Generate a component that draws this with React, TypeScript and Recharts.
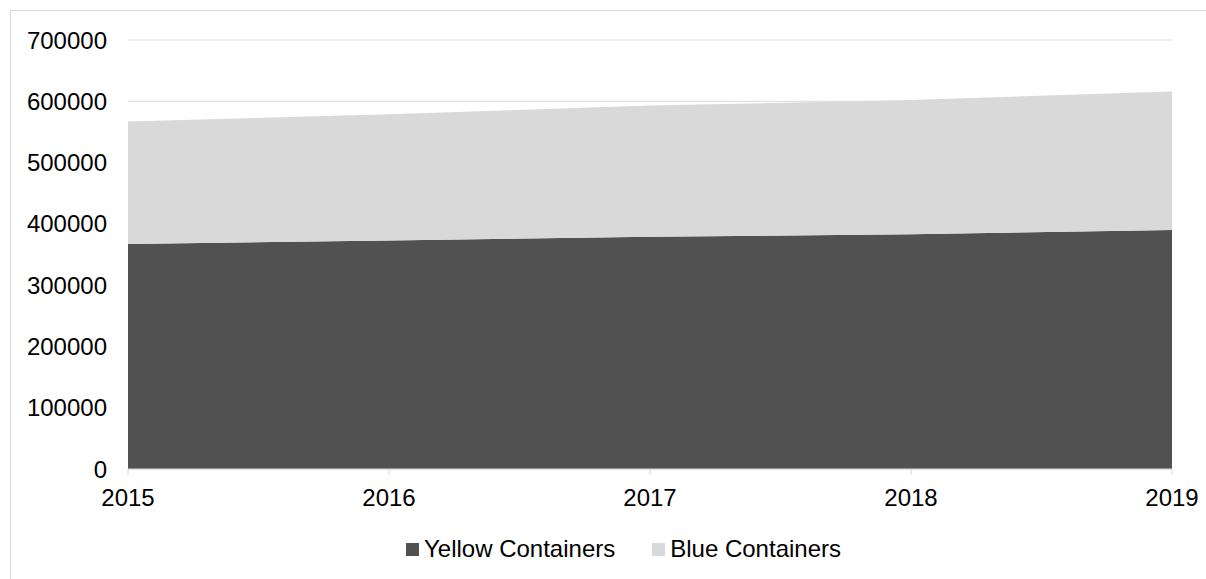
import React from 'react';
import { AreaChart, Area, XAxis, YAxis, CartesianGrid, Legend } from 'recharts';

const years = ['2015', '2016', '2017', '2018', '2019'];
const yellowContainers = [367000, 373000, 379000, 383000, 390000];
const blueContainers = [200000, 206000, 214000, 219000, 226000];
const yTicks = [0, 100000, 200000, 300000, 400000, 500000, 600000, 700000];

const seriesNames = ['Yellow Containers', 'Blue Containers'];
const seriesColors = ['#515151', '#d9d9d9'];

const data = years.map((y, i) => ({
  year: y,
  yellow: yellowContainers[i],
  blue: blueContainers[i],
}));

const FONT = '"Liberation Sans", Arial, sans-serif';
const FS = 24;

const LegendContent = () => (
  <div
    style={{
      display: 'flex',
      justifyContent: 'center',
      alignItems: 'center',
      fontFamily: FONT,
      fontSize: FS,
      color: '#000',
      paddingLeft: 41,
      lineHeight: '28px',
    }}
  >
    {seriesNames.map((n, i) => (
      <div key={n} style={{ display: 'flex', alignItems: 'center', marginRight: i === 0 ? 37 : 0 }}>
        <div style={{ width: 13, height: 13, background: seriesColors[i], marginRight: 5 }} />
        <span>{n}</span>
      </div>
    ))}
  </div>
);

export default function App() {
  return (
    <div style={{ position: 'absolute', left: 0, top: 0, width: 1206, height: 579, background: '#fff', overflow: 'hidden' }}>
      <div
        style={{
          position: 'absolute',
          left: 10,
          top: 10,
          width: 1300,
          height: 700,
          border: '1px solid #d9d9d9',
          boxSizing: 'border-box',
        }}
      />
      <AreaChart
        width={1206}
        height={579}
        data={data}
        margin={{ top: 40, right: 34, bottom: 80, left: 0 }}
        style={{ position: 'absolute', left: 0, top: 0 }}
      >
        <CartesianGrid vertical={false} stroke="#d9d9d9" strokeWidth={1} />
        <XAxis
          dataKey="year"
          height={30}
          axisLine={{ stroke: '#d9d9d9', strokeWidth: 1 }}
          tickLine={{ stroke: '#d9d9d9', strokeWidth: 1 }}
          tickSize={6}
          tickMargin={14}
          tick={{ fill: '#000', fontFamily: FONT, fontSize: FS }}
          interval={0}
        />
        <YAxis
          width={128}
          domain={[0, 700000]}
          ticks={yTicks}
          axisLine={false}
          tickLine={false}
          tickSize={0}
          tickMargin={21}
          tick={{ fill: '#000', fontFamily: FONT, fontSize: FS }}
          interval={0}
        />
        <Area
          type="linear"
          dataKey="yellow"
          name={seriesNames[0]}
          stackId="a"
          fill={seriesColors[0]}
          fillOpacity={1}
          stroke="none"
          isAnimationActive={false}
        />
        <Area
          type="linear"
          dataKey="blue"
          name={seriesNames[1]}
          stackId="a"
          fill={seriesColors[1]}
          fillOpacity={1}
          stroke="none"
          isAnimationActive={false}
        />
        <Legend
          layout="horizontal"
          verticalAlign="middle"
          align="center"
          content={<LegendContent />}
          wrapperStyle={{ top: 535, left: 0, width: 1206 }}
        />
      </AreaChart>
    </div>
  );
}
